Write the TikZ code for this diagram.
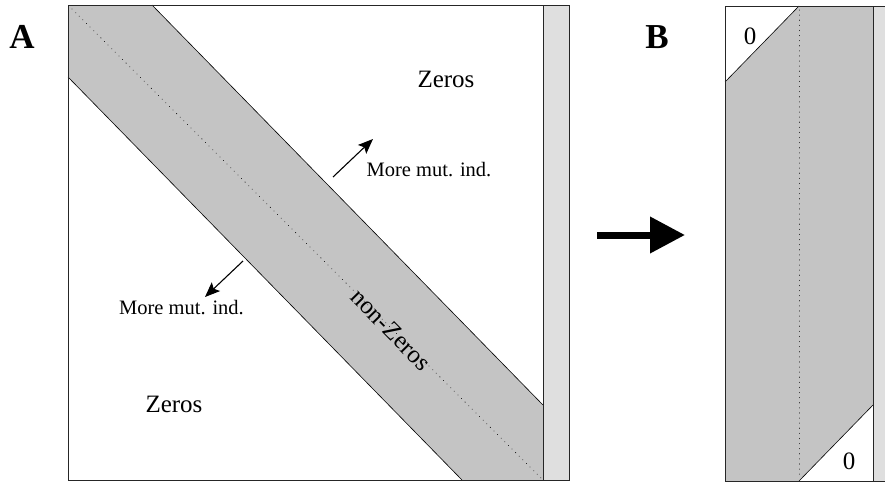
\documentclass[tikz,border=0pt]{standalone}
\usepackage{fontspec}
\setmainfont{Liberation Serif}
\usetikzlibrary{arrows.meta}
\definecolor{bandgray}{RGB}{196,196,196}
\definecolor{stripgray}{RGB}{223,223,223}
\tikzset{
  frame/.style={draw=black!85, line width=0.9pt},
  edge/.style={draw=black, line width=0.6pt},
  diag/.style={draw=black!85, line width=1pt, line cap=round, dash pattern=on 0.1pt off 5pt},
  biglbl/.style={font=\fontsize{25}{25}\selectfont, inner sep=0pt},
  smalllbl/.style={font=\fontsize{20.5}{20.5}\selectfont, inner sep=0pt},
  panellbl/.style={font=\fontsize{35}{35}\selectfont\bfseries, inner sep=0pt},
  ptr/.style={-{Stealth[length=15pt,width=12pt,inset=3pt]}, line width=1.1pt},
  bigarrow/.style={-{Triangle[length=35pt,width=35pt]}, line width=7pt},
}
\begin{document}
\begin{tikzpicture}[x=1pt,y=-1pt]
\useasboundingbox (0,0) rectangle (885,482);

% ---- Panel A: banded matrix ----
\fill[stripgray] (543,5) rectangle (569,480);
\fill[bandgray] (68,5) -- (152,5) -- (543,405) -- (543,480) -- (462,480) -- (68,77) -- cycle;
\draw[edge] (152,5) -- (543,405);
\draw[edge] (68,77) -- (462,480);
\draw[diag] (72,9) -- (541,478);
\draw[frame] (68,5) rectangle (569,480);
\draw[frame] (543,5) -- (543,480);

\node[panellbl] (labA) at (22,37) {A};
\node[biglbl] (zerosU) at (446,79) {Zeros};
\node[biglbl] (zerosL) at (174,404) {Zeros};
\node[biglbl, rotate=-45.65] (nonz) at (391,330) {non-Zeros};
\node[smalllbl] (moreU) at (429,170) {More mut. ind.};
\node[smalllbl] (moreL) at (181.5,308) {More mut. ind.};

\coordinate (pUs) at (333,177);
\coordinate (pUe) at (373,139);
\coordinate (pLs) at (243,261);
\coordinate (pLe) at (205,297);
\draw[ptr] (pUs) -- (pUe);
\draw[ptr] (pLs) -- (pLe);

% ---- transformation arrow ----
\coordinate (bigS) at (597,235);
\coordinate (bigE) at (685,235);
\draw[bigarrow] (bigS) -- (bigE);

% ---- Panel B: compressed band storage ----
\begin{scope}
\clip (0,0) rectangle (885,482);
\fill[stripgray] (873,6) rectangle (895,481);
\fill[bandgray] (725,6) rectangle (873,481);
\fill[white] (725,6) -- (799,6) -- (725,82) -- cycle;
\fill[white] (873,405) -- (873,481) -- (799,481) -- cycle;
\draw[edge] (799,6) -- (725,82);
\draw[edge] (873,405) -- (799,481);
\draw[diag] (799,10) -- (799,479);
\draw[frame] (725,6) rectangle (895,481);
\draw[frame] (873,6) -- (873,481);
\end{scope}

\node[panellbl] (labB) at (657,37) {B};
\node[biglbl] (zeroU) at (750,36) {0};
\node[biglbl] (zeroL) at (849,461) {0};
\end{tikzpicture}
\end{document}
